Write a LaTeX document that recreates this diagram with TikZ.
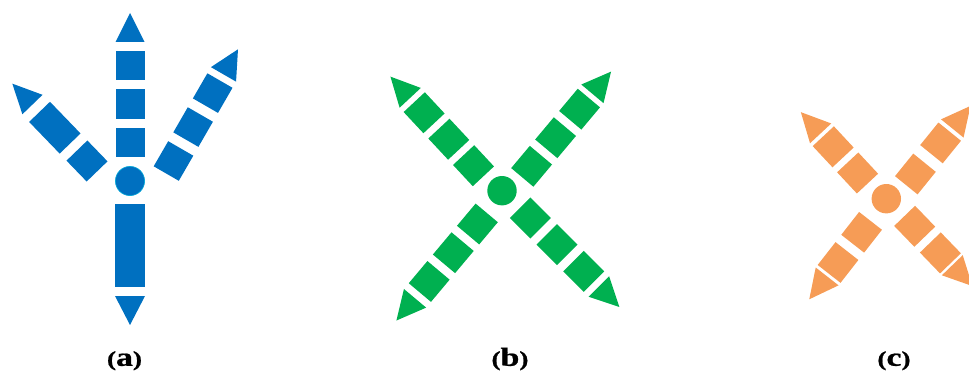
\documentclass[tikz,border=0pt]{standalone}
\usepackage{fontspec}
\setmainfont{Liberation Serif}
\newfontfamily\lblfont[FakeBold=0.8]{Liberation Serif Bold}
\definecolor{BlueClr}{RGB}{0,112,192}
\definecolor{GreenClr}{RGB}{0,176,80}
\definecolor{OrangeClr}{RGB}{246,156,86}
\tikzset{lbl/.style={anchor=base,inner sep=0pt,xscale=1.3,transform shape}}
\newcommand{\ParFont}{\lblfont\fontsize{21pt}{24pt}\selectfont}
\newcommand{\LetFont}{\lblfont\fontsize{26pt}{28pt}\selectfont}
\newcommand{\PanelTag}[1]{\ParFont(\LetFont#1\ParFont)}
\newcommand{\TriArm}[6]{%
  \begin{scope}[shift={#1},rotate=#2]
    \foreach \k in {1,...,#3}
      \fill[#6] ({(\k-1)*#4-14.5},-14.5) rectangle ++(29,29);
    \fill[#6] ({(#3-1)*#4+#5},-14.5) -- ++(29,14.5) -- ++(-29,14.5) -- cycle;
  \end{scope}}

\begin{document}
\begin{tikzpicture}[x=1pt,y=1pt]
\clip (0,0) rectangle (969,373);

\fill[BlueClr,draw=BlueClr!60!cyan,line width=.6pt] (130,192) circle (14.6);
\TriArm{(130,230.5)}{90}{3}{38.5}{23.5}{BlueClr}
\TriArm{(173.5,212)}{60}{3}{39.2}{21.6}{BlueClr}
\begin{scope}[shift={(87,212)},rotate=134]
  \fill[BlueClr] (-14.5,-14.5) rectangle (14.5,14.5);
  \fill[BlueClr] (24.3,-14.5) rectangle (68.3,14.5);
  \fill[BlueClr] (78.5,-14) -- (107.5,0) -- (78.5,14) -- cycle;
\end{scope}
\fill[BlueClr] (115,86) rectangle (145,169);
\fill[BlueClr] (115,77) -- (145,77) -- (130,48) -- cycle;

\fill[GreenClr] (502,182.3) circle (14.7);
\TriArm{(473.5,207.3)}{133}{3}{36.2}{20.4}{GreenClr}
\TriArm{(531.6,206.7)}{50}{3}{37.3}{20}{GreenClr}
\TriArm{(477.4,149)}{230}{3}{37.5}{22}{GreenClr}
\TriArm{(530.4,155)}{-45}{3}{37.7}{21.4}{GreenClr}

\fill[OrangeClr] (886.3,174.3) circle (14.7);
\TriArm{(857.6,200)}{133}{2}{35.8}{18.4}{OrangeClr}
\TriArm{(915.4,199)}{51}{2}{40}{18.6}{OrangeClr}
\TriArm{(861.6,140.7)}{232}{2}{38.3}{17.7}{OrangeClr}
\TriArm{(914.7,146.7)}{-46}{2}{37}{17.1}{OrangeClr}

\node[lbl] (labA) at (124.5,7.2) {\PanelTag{a}};
\node[lbl] (labB) at (510,7.2) {\PanelTag{b}};
\node[lbl] (labC) at (894,7.2) {\PanelTag{c}};
\end{tikzpicture}
\end{document}
